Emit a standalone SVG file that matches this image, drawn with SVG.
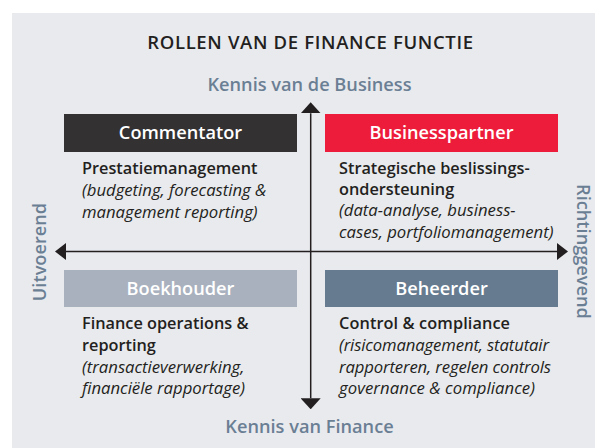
<svg xmlns="http://www.w3.org/2000/svg" width="595" height="448" viewBox="0 0 595 448">
  <style>
    text { font-family: "Open Sans", "Noto Sans", "Liberation Sans", sans-serif; }
    .title { font-size: 18.5px; font-weight: 600; fill: #231f20; text-anchor: middle; letter-spacing: 0.65px; }
    .axis { font-size: 18.2px; font-weight: 600; fill: #6b7f94; text-anchor: middle; }
    .boxlbl { font-size: 18.2px; font-weight: 600; fill: #ffffff; text-anchor: middle; }
    .head { font-size: 16.3px; font-weight: 600; fill: #231f20; }
    .desc { font-size: 16.7px; font-style: italic; fill: #231f20; }
    .ax { stroke: #231f20; stroke-width: 1.5; fill: none; }
  </style>
  <defs>
    <marker id="arrV" markerUnits="userSpaceOnUse" viewBox="0 0 11 20" refX="0" refY="10" markerWidth="11" markerHeight="20" orient="auto-start-reverse">
      <path d="M0,0 L11,10 L0,20 Z" fill="#231f20"/>
    </marker>
    <marker id="arrH" markerUnits="userSpaceOnUse" viewBox="0 0 11 17" refX="0" refY="8.5" markerWidth="11" markerHeight="17" orient="auto-start-reverse">
      <path d="M0,0 L11,8.5 L0,17 Z" fill="#231f20"/>
    </marker>
  </defs>
  <rect x="0" y="0" width="595" height="448" fill="#ffffff"/>
  <rect x="12" y="13" width="583" height="435" fill="#e9eaee"/>

  <g id="title"><text class="title" x="310.5" y="49">ROLLEN VAN DE FINANCE FUNCTIE</text></g>
  <g id="axis-top"><text class="axis" x="309.5" y="91">Kennis van de Business</text></g>
  <g id="axis-bottom"><text class="axis" x="309.5" y="433">Kennis van Finance</text></g>
  <g id="axis-left"><text class="axis" transform="translate(45.5,252) rotate(-90)" x="0" y="0">Uitvoerend</text></g>
  <g id="axis-right"><text class="axis" transform="translate(577,251.5) rotate(90)" x="0" y="0">Richtinggevend</text></g>

  <g id="connectors">
    <line class="ax" x1="310.7" y1="398.3" x2="310.7" y2="113.3" marker-end="url(#arrV)" marker-start="url(#arrV)"/>
    <line class="ax" x1="66" y1="251.5" x2="557" y2="251.5" marker-end="url(#arrH)" marker-start="url(#arrH)"/>
  </g>

  <g id="commentator">
    <rect x="64" y="114" width="233" height="38" fill="#333132"/>
    <text class="boxlbl" x="180.5" y="139">Commentator</text>
    <text class="head" x="82" y="174">Prestatiemanagement</text>
    <text class="desc" x="82" y="196">(budgeting, forecasting &amp;</text>
    <text class="desc" x="82" y="218">management reporting)</text>
  </g>

  <g id="businesspartner">
    <rect x="325" y="114" width="233" height="38" fill="#ee1c3b"/>
    <text class="boxlbl" x="441.5" y="139">Businesspartner</text>
    <text class="head" x="339" y="173.5">Strategische beslissings-</text>
    <text class="head" x="339" y="195">ondersteuning</text>
    <text class="desc" x="339" y="216">(data-analyse, business-</text>
    <text class="desc" x="339" y="237.5">cases, portfoliomanagement)</text>
  </g>

  <g id="boekhouder">
    <rect x="64" y="270" width="233" height="37" fill="#a9b1be"/>
    <text class="boxlbl" x="180.5" y="295">Boekhouder</text>
    <text class="head" x="82" y="329">Finance operations &amp;</text>
    <text class="head" x="82" y="351">reporting</text>
    <text class="desc" x="82" y="372.5">(transactieverwerking,</text>
    <text class="desc" x="82" y="394">financiële rapportage)</text>
  </g>

  <g id="beheerder">
    <rect x="325" y="270" width="233" height="37" fill="#667b8f"/>
    <text class="boxlbl" x="441.5" y="295">Beheerder</text>
    <text class="head" x="339" y="329" textLength="171" lengthAdjust="spacing">Control &amp; compliance</text>
    <text class="desc" x="339" y="351" textLength="210" lengthAdjust="spacing">(risicomanagement, statutair</text>
    <text class="desc" x="339" y="372.5" textLength="212" lengthAdjust="spacing">rapporteren, regelen controls</text>
    <text class="desc" x="339" y="394" textLength="196" lengthAdjust="spacing">governance &amp; compliance)</text>
  </g>
</svg>
